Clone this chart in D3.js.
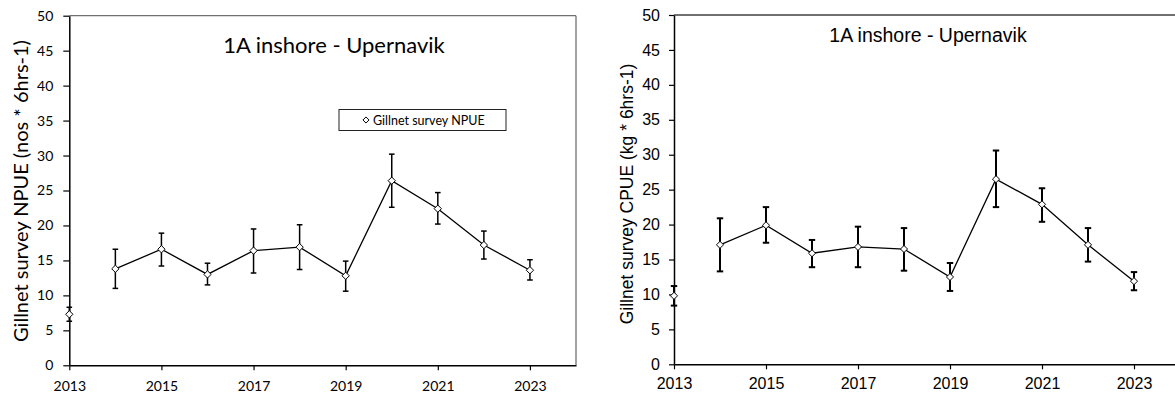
<!DOCTYPE html>
<html><head><meta charset="utf-8">
<script src="https://cdn.jsdelivr.net/npm/d3@7"></script>
<style>body{margin:0;background:#fff}svg{display:block}</style>
</head><body>
<svg id="c" width="1175" height="398"></svg>
<script>
const years = [2013,2014,2015,2016,2017,2018,2019,2020,2021,2022,2023];
const npue   = [7.3, 13.8, 16.6, 13.0, 16.4, 16.9, 12.8, 26.4, 22.4, 17.2, 13.6];
const npueLo = [6.3, 11.0, 14.2, 11.5, 13.2, 13.7, 10.6, 22.6, 20.2, 15.2, 12.2];
const npueHi = [8.3, 16.6, 18.9, 14.6, 19.5, 20.1, 14.9, 30.2, 24.7, 19.2, 15.1];
const cpue   = [9.8, 17.1, 19.9, 15.9, 16.8, 16.5, 12.5, 26.5, 22.9, 17.1, 11.9];
const cpueLo = [8.4, 13.3, 17.4, 13.9, 13.9, 13.4, 10.5, 22.5, 20.4, 14.7, 10.6];
const cpueHi = [11.2, 20.9, 22.5, 17.8, 19.7, 19.5, 14.5, 30.6, 25.2, 19.5, 13.2];
const yTicks = [0,5,10,15,20,25,30,35,40,45,50];
const xTicks = [2013,2015,2017,2019,2021,2023];
const titleText = "1A inshore - Upernavik";
const yLabelL = "Gillnet survey NPUE (nos * 6hrs-1)";
const yLabelR = "Gillnet survey CPUE (kg * 6hrs-1)";
const legendText = "Gillnet survey NPUE";

const svg = d3.select("#c");
const diamond = d3.symbol().type(d3.symbolDiamond2);

function panel(o){
  const g = svg.append("g");
  const x = d3.scaleLinear().domain([2013,2024]).range(o.xr);
  const y = d3.scaleLinear().domain([0,50]).range(o.yr);
  const font = o.font;
  g.append("line").attr("x1",x(2013)).attr("x2",x(2024)).attr("y1",y(50)).attr("y2",y(50))
    .attr("stroke",o.frame).attr("stroke-width",1.3);
  g.append("line").attr("x1",x(2024)).attr("x2",x(2024)).attr("y1",y(50)).attr("y2",y(0))
    .attr("stroke",o.frame).attr("stroke-width",1.3);
  const ya = g.append("g").attr("transform",`translate(${x(2013)},0)`)
    .call(d3.axisLeft(y).tickValues(yTicks).tickSize(o.tick).tickSizeOuter(0).tickPadding(o.ypad));
  const xa = g.append("g").attr("transform",`translate(0,${y(0)})`)
    .call(d3.axisBottom(x).tickValues(xTicks).tickFormat(d3.format("d")).tickSize(5).tickSizeOuter(0).tickPadding(o.xpad));
  [ya,xa].forEach(a=>{
    a.selectAll("path.domain").attr("stroke","#000").attr("stroke-width",1.5);
    a.selectAll(".tick line").attr("stroke","#000").attr("stroke-width",1.2);
    a.selectAll("text").attr("font-family",font).attr("font-size",o.tickFs).attr("fill","#000");
  });
  g.append("text").attr("x",o.titleX).attr("y",o.titleY).attr("text-anchor","middle")
    .attr("font-family",font).attr("font-size",o.titleFs).text(titleText);
  g.append("text").attr("transform",`translate(${o.ylabX},${o.ylabY}) rotate(-90)`)
    .attr("text-anchor","middle").attr("font-family",font).attr("font-size",o.ylabFs).text(o.ylab);
  const eb = g.append("g").attr("stroke","#000").attr("stroke-width",o.ebw);
  years.forEach((yr,i)=>{
    eb.append("line").attr("x1",x(yr)).attr("x2",x(yr)).attr("y1",y(o.lo[i])).attr("y2",y(o.hi[i]));
    [o.lo[i],o.hi[i]].forEach(v=>eb.append("line").attr("x1",x(yr)-o.cap).attr("x2",x(yr)+o.cap)
      .attr("y1",y(v)).attr("y2",y(v)));
  });
  const line = d3.line().defined((d,i)=>i>0).x((d,i)=>x(years[i])).y(d=>y(d));
  g.append("path").attr("d",line(o.vals)).attr("fill","none").attr("stroke","#000").attr("stroke-width",1.3);
  g.selectAll("path.m").data(o.vals).enter().append("path").attr("class","m")
    .attr("transform",(d,i)=>`translate(${x(years[i])},${y(d)})`)
    .attr("d",diamond.size(o.msize)).attr("fill","#fff").attr("stroke","#000").attr("stroke-width",1);
  return {g,x,y};
}

const L = panel({xr:[69.3,576], yr:[365.3,15.7], font:"Lato", frame:"#707070", tick:6,
  ypad:10, xpad:11, tickFs:14, titleX:334, titleY:53, titleFs:22,
  ylabX:28, ylabY:191, ylabFs:20, ylab:yLabelL,
  vals:npue, lo:npueLo, hi:npueHi, ebw:1.5, cap:2.8, msize:34});

const R = panel({xr:[674,1180], yr:[364.3,15], font:"Liberation Sans", frame:"#404040", tick:5,
  ypad:9, xpad:8, tickFs:16, titleX:928, titleY:42, titleFs:19.5,
  ylabX:633, ylabY:194, ylabFs:17.5, ylab:yLabelR,
  vals:cpue, lo:cpueLo, hi:cpueHi, ebw:2, cap:3.2, msize:32});

const lg = svg.append("g");
lg.append("rect").attr("x",339).attr("y",109.5).attr("width",167).attr("height",21)
  .attr("fill","#fff").attr("stroke","#222").attr("stroke-width",1);
lg.append("path").attr("transform","translate(366,120)").attr("d",diamond.size(24))
  .attr("fill","#fff").attr("stroke","#000").attr("stroke-width",1);
lg.append("text").attr("x",373).attr("y",124.5).attr("font-family","Lato").attr("font-size",12.5).text(legendText);
</script>
</body></html>
